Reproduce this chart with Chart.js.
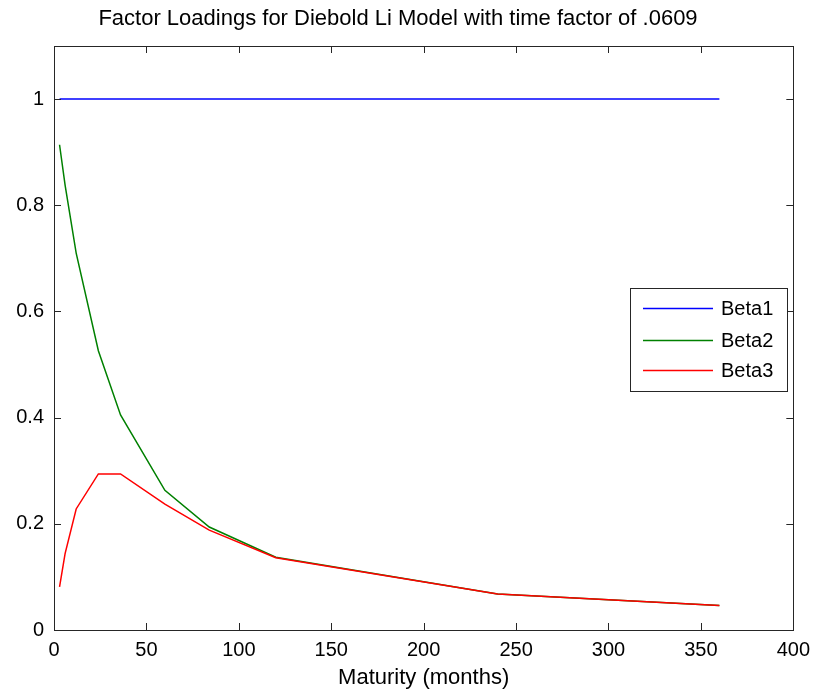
<!DOCTYPE html>
<html>
<head>
<meta charset="utf-8">
<script src="https://cdn.jsdelivr.net/npm/chart.js@4/dist/chart.umd.min.js"></script>
<style>
  html, body { margin: 0; padding: 0; background: #fff; }
  #wrap { width: 818px; height: 692px; }
</style>
</head>
<body>
<div id="wrap"><canvas id="chart" width="818" height="692"></canvas></div>
<script>
// maturities in months
const maturities = [3, 6, 12, 24, 36, 60, 84, 120, 240, 360];
const beta1 = [1, 1, 1, 1, 1, 1, 1, 1, 1, 1];
const beta2 = [0.914, 0.838, 0.710, 0.526, 0.405, 0.263, 0.194, 0.137, 0.068, 0.046];
const beta3 = [0.081, 0.144, 0.228, 0.294, 0.294, 0.237, 0.188, 0.136, 0.068, 0.046];
const seriesNames = ['Beta1', 'Beta2', 'Beta3'];
const xTicks = [0, 50, 100, 150, 200, 250, 300, 350, 400];
const yTicks = [0, 0.2, 0.4, 0.6, 0.8, 1];

const FONT = 'Arial, "Liberation Sans", sans-serif';
const colors = ['#0000ff', '#008000', '#ff0000'];

function pts(ys) {
    return maturities.map((m, i) => ({ x: m, y: ys[i] }));
}

// box, inside ticks, and legend in the MATLAB manner
const matlabFrame = {
    id: 'matlabFrame',
    afterDraw(chart) {
        const ctx = chart.ctx;
        const a = chart.chartArea;
        const xs = chart.scales.x, ys = chart.scales.y;
        ctx.save();
        ctx.strokeStyle = '#262626';
        ctx.lineWidth = 1;
        ctx.strokeRect(Math.round(a.left) + 0.5, Math.round(a.top) + 0.5,
            Math.round(a.right - a.left), Math.round(a.bottom - a.top));
        ctx.beginPath();
        xTicks.forEach(t => {
            const px = Math.round(xs.getPixelForValue(t)) + 0.5;
            ctx.moveTo(px, a.bottom); ctx.lineTo(px, a.bottom - 7);
            ctx.moveTo(px, a.top); ctx.lineTo(px, a.top + 7);
        });
        yTicks.forEach(t => {
            const py = Math.round(ys.getPixelForValue(t)) + 0.5;
            ctx.moveTo(a.left, py); ctx.lineTo(a.left + 7, py);
            ctx.moveTo(a.right, py); ctx.lineTo(a.right - 7, py);
        });
        ctx.stroke();

        // legend
        const lx = 630, ly = 288, lw = 157, lh = 103;
        ctx.fillStyle = '#fff';
        ctx.fillRect(lx, ly, lw, lh);
        ctx.strokeStyle = '#262626';
        ctx.strokeRect(lx + 0.5, ly + 0.5, lw, lh);
        ctx.font = '20px ' + FONT;
        ctx.textBaseline = 'middle';
        const rows = [308, 340, 370];
        chart.data.datasets.forEach((ds, i) => {
            ctx.strokeStyle = ds.borderColor;
            ctx.lineWidth = 1.5;
            ctx.beginPath();
            ctx.moveTo(643, rows[i] + 0.5);
            ctx.lineTo(713, rows[i] + 0.5);
            ctx.stroke();
            ctx.fillStyle = '#000';
            ctx.fillText(ds.label, 721, rows[i] + 1);
        });
        ctx.restore();
    }
};

new Chart(document.getElementById('chart').getContext('2d'), {
    type: 'line',
    data: {
        datasets: [
            { label: seriesNames[0], data: pts(beta1), borderColor: colors[0], order: 2 },
            { label: seriesNames[1], data: pts(beta2), borderColor: colors[1], order: 1 },
            { label: seriesNames[2], data: pts(beta3), borderColor: colors[2], order: 0 }
        ].map(d => Object.assign(d, {
            borderWidth: 1.5,
            pointRadius: 0,
            tension: 0,
            fill: false
        }))
    },
    options: {
        responsive: false,
        animation: false,
        layout: { padding: { top: 0, right: 22, left: 0, bottom: 0 } },
        plugins: {
            legend: { display: false },
            tooltip: { enabled: false },
            title: {
                display: true,
                text: 'Factor Loadings for Diebold Li Model with time factor of .0609',
                color: '#000',
                font: { family: FONT, size: 22, weight: 'normal', lineHeight: 1.2 },
                padding: { top: 6, bottom: 13.6 }
            }
        },
        scales: {
            x: {
                type: 'linear',
                min: 0,
                max: 400,
                afterBuildTicks: s => { s.ticks = xTicks.map(v => ({ value: v })); },
                afterFit: s => { s.height = 62; },
                grid: { display: false, drawTicks: false },
                border: { display: false },
                ticks: { color: '#000', font: { family: FONT, size: 20 }, padding: 8, maxRotation: 0 },
                title: {
                    display: true,
                    text: 'Maturity (months)',
                    color: '#000',
                    font: { family: FONT, size: 22, lineHeight: 1.2 },
                    padding: { top: 0, bottom: 1 }
                }
            },
            y: {
                min: 0,
                max: 1.1,
                afterBuildTicks: s => { s.ticks = yTicks.map(v => ({ value: v })); },
                afterFit: s => { s.width = 54; },
                grid: { display: false, drawTicks: false },
                border: { display: false },
                ticks: {
                    color: '#000',
                    font: { family: FONT, size: 20 },
                    padding: 10,
                    callback: v => String(+v.toFixed(1))
                }
            }
        }
    },
    plugins: [matlabFrame]
});
</script>
</body>
</html>
